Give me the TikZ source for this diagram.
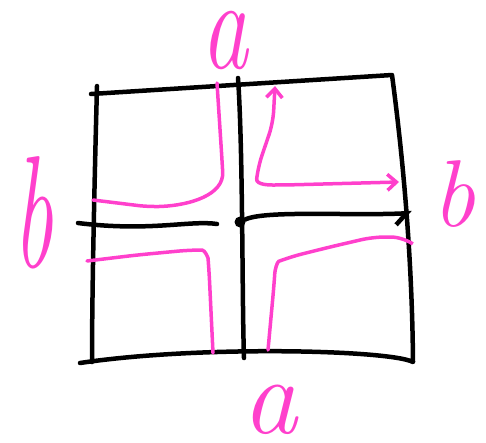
\documentclass[tikz,border=0pt]{standalone}
\usepackage{tikz}
\usetikzlibrary{arrows.meta}
\definecolor{pen}{RGB}{255,64,204}
\tikzset{
  frame/.style={line width=4.5pt, line cap=round, line join=round},
  flow/.style={pen, line width=3.5pt, line cap=round, rounded corners=12pt},
  letter/.style={text=pen, inner sep=0pt, font=\itshape}
}

\begin{document}
\begin{tikzpicture}[x=1pt,y=-1pt]
\useasboundingbox (0,0) rectangle (486,442);
% square
\coordinate (tl) at (91,94);
\coordinate (tr) at (392,75);
\coordinate (br) at (413,362);
\coordinate (bl) at (80,363);
\draw[frame] (tl) -- (tr) .. controls (402,150) and (412,250) .. (br)
    .. controls (390,350) and (200,345) .. (bl);
\draw[frame] (97,86) .. controls (94,200) and (92,300) .. (92,362);
% cross
\coordinate (ta) at (238,78);
\coordinate (ba) at (244,358);
\coordinate (lb) at (78,223);
\coordinate (le) at (217,224);
\coordinate (rb) at (412,213);
\node[circle, fill, inner sep=0pt, minimum size=11pt] (o) at (240,222) {};
\draw[frame] (ta) .. controls (243,150) and (242,300) .. (ba);
\draw[frame] (lb) .. controls (150,232) and (190,220) .. (le);
\draw[frame, -{Straight Barb[right, length=11pt, width=22pt]}] (o) .. controls (265,210) and (350,216) .. (rb);
% flow lines
\draw[flow] (217,83) -- (222,160) .. controls (224,195) and (190,205) .. (150,207) -- (93,200);
\draw[flow] (87,261) -- (137,255) -- (190,250) .. controls (205,250) and (208,258) .. (209,270) -- (213,353);
\draw[flow, {Straight Barb[length=9pt, width=16pt]}-{Straight Barb[length=9pt, width=16pt]}]
    (275,86) -- (273,123) -- (258,167) .. controls (256,185) and (270,185) .. (285,185) -- (399,182);
\draw[flow] (410,242) -- (403,237) -- (373,237) -- (330,247) -- (290,257) .. controls (277,262) and (275,270) .. (274,285) -- (268,350);
% labels
\node[letter] (atop) at (225,40) {\fontsize{130}{130}\selectfont\scalebox{0.72}[1]{a}};
\node[letter] (abot) at (270,410) {\fontsize{110}{110}\selectfont a};
\node[letter] (bleft) at (33,213) {\fontsize{160}{160}\selectfont\scalebox{0.55}[1]{b}};
\node[letter] (bright) at (454,194) {\fontsize{95}{95}\selectfont b};
\end{tikzpicture}
\end{document}
